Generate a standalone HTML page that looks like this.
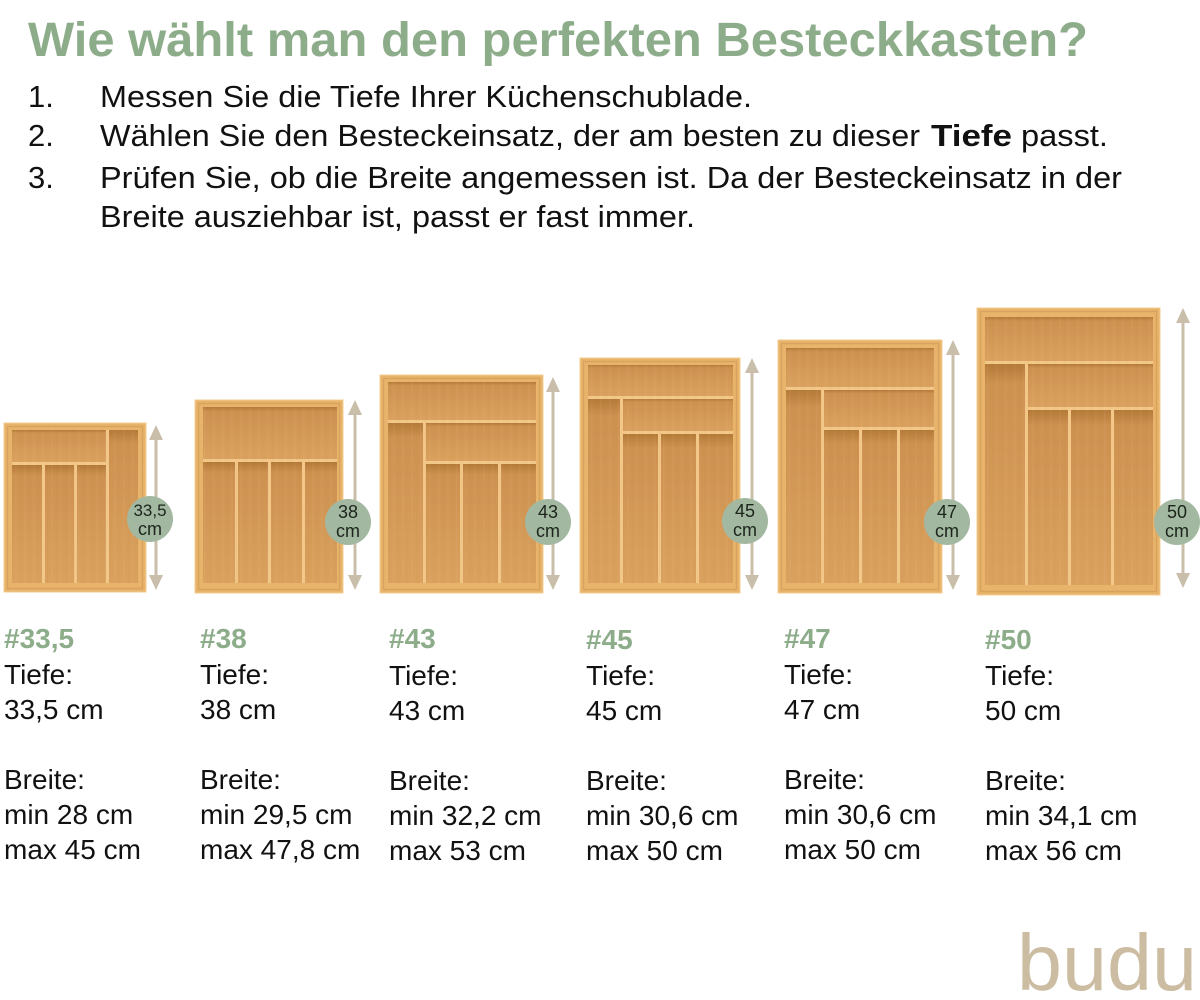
<!DOCTYPE html>
<html>
<head>
<meta charset="utf-8">
<style>
html,body{margin:0;padding:0;background:#fff;}
svg{display:block;}
</style>
</head>
<body>
<svg width="1200" height="1000" viewBox="0 0 1200 1000" xmlns="http://www.w3.org/2000/svg">
<defs>
  <linearGradient id="fl" x1="0" y1="0" x2="0" y2="1">
    <stop offset="0" stop-color="#b47a38"/>
    <stop offset="0.09" stop-color="#cd9150"/>
    <stop offset="1" stop-color="#daa15e"/>
  </linearGradient>
  <pattern id="grain" width="9" height="40" patternUnits="userSpaceOnUse">
    <rect x="2" y="0" width="1" height="40" fill="#8a5a25" opacity="0.04"/>
    <rect x="6" y="0" width="1.5" height="40" fill="#fff3d8" opacity="0.05"/>
  </pattern>
</defs>
<rect width="1200" height="1000" fill="#ffffff"/>

<!-- Title -->
<text x="28" y="56" font-family="Liberation Sans, sans-serif" font-weight="bold" font-size="48" fill="#8dad8a" textLength="1060" lengthAdjust="spacingAndGlyphs">Wie wählt man den perfekten Besteckkasten?</text>

<!-- List -->
<g font-family="Liberation Sans, sans-serif" font-size="31" fill="#111">
  <text x="28" y="107">1.</text>
  <text x="100" y="107" textLength="652" lengthAdjust="spacingAndGlyphs">Messen Sie die Tiefe Ihrer Küchenschublade.</text>
  <text x="28" y="146">2.</text>
  <text x="100" y="146" textLength="820" lengthAdjust="spacingAndGlyphs">Wählen Sie den Besteckeinsatz, der am besten zu dieser</text>
  <text x="931" y="146" font-weight="bold" textLength="81" lengthAdjust="spacingAndGlyphs">Tiefe</text>
  <text x="1021" y="146" textLength="87" lengthAdjust="spacingAndGlyphs">passt.</text>
  <text x="28" y="188">3.</text>
  <text x="100" y="188" textLength="1022" lengthAdjust="spacingAndGlyphs">Prüfen Sie, ob die Breite angemessen ist. Da der Besteckeinsatz in der</text>
  <text x="100" y="227" textLength="595" lengthAdjust="spacingAndGlyphs">Breite ausziehbar ist, passt er fast immer.</text>
</g>

<!-- Arrows -->
<g fill="#c9bea9" stroke="none">
  <rect x="154.5" y="437" width="3" height="141"/>
  <polygon points="149,440 156,425 163,440"/><polygon points="149,575 156,590 163,575"/>
  <rect x="353.5" y="412" width="3" height="166"/>
  <polygon points="348,415 355,400 362,415"/><polygon points="348,575 355,590 362,575"/>
  <rect x="551.5" y="389" width="3" height="189"/>
  <polygon points="546,392 553,377 560,392"/><polygon points="546,575 553,590 560,575"/>
  <rect x="750.5" y="370" width="3" height="208"/>
  <polygon points="745,373 752,358 759,373"/><polygon points="745,575 752,590 759,575"/>
  <rect x="951.5" y="352" width="3" height="226"/>
  <polygon points="946,355 953,340 960,355"/><polygon points="946,575 953,590 960,575"/>
  <rect x="1181.5" y="320" width="3" height="256"/>
  <polygon points="1176,323 1183,308 1190,323"/><polygon points="1176,573 1183,588 1190,573"/>
</g>

<!-- Tray 1 -->
<g>
  <rect x="4" y="423" width="142" height="169" fill="#e8b46c" stroke="#f3cd90" stroke-width="1"/>
  <rect x="7.5" y="426.5" width="135" height="162" fill="none" stroke="#d9a35e" stroke-width="1.5"/>
  <rect x="12" y="430" width="126" height="153" fill="#f2c787"/>
  <rect x="12" y="430" width="94" height="32" fill="url(#fl)"/>
  <rect x="109" y="430" width="29" height="153" fill="url(#fl)"/>
  <rect x="12" y="465" width="30" height="118" fill="url(#fl)"/>
  <rect x="45" y="465" width="29" height="118" fill="url(#fl)"/>
  <rect x="77" y="465" width="29" height="118" fill="url(#fl)"/>
  <rect x="12" y="430" width="126" height="153" fill="url(#grain)"/>
</g>

<!-- Tray 2 -->
<g>
  <rect x="195" y="400" width="148" height="193" fill="#e8b46c" stroke="#f3cd90" stroke-width="1"/>
  <rect x="198.5" y="403.5" width="141" height="186" fill="none" stroke="#d9a35e" stroke-width="1.5"/>
  <rect x="203" y="407" width="134" height="176" fill="#f2c787"/>
  <rect x="203" y="407" width="134" height="52" fill="url(#fl)"/>
  <rect x="203" y="462" width="32" height="121" fill="url(#fl)"/>
  <rect x="238" y="462" width="30" height="121" fill="url(#fl)"/>
  <rect x="271" y="462" width="31" height="121" fill="url(#fl)"/>
  <rect x="305" y="462" width="32" height="121" fill="url(#fl)"/>
  <rect x="203" y="407" width="134" height="176" fill="url(#grain)"/>
</g>

<!-- Tray 3 -->
<g>
  <rect x="380" y="375" width="163" height="218" fill="#e8b46c" stroke="#f3cd90" stroke-width="1"/>
  <rect x="383.5" y="378.5" width="156" height="211" fill="none" stroke="#d9a35e" stroke-width="1.5"/>
  <rect x="388" y="382" width="148" height="201" fill="#f2c787"/>
  <rect x="388" y="382" width="148" height="38" fill="url(#fl)"/>
  <rect x="388" y="423" width="35" height="160" fill="url(#fl)"/>
  <rect x="426" y="423" width="110" height="38" fill="url(#fl)"/>
  <rect x="426" y="464" width="34" height="119" fill="url(#fl)"/>
  <rect x="463" y="464" width="35" height="119" fill="url(#fl)"/>
  <rect x="501" y="464" width="35" height="119" fill="url(#fl)"/>
  <rect x="388" y="382" width="148" height="201" fill="url(#grain)"/>
</g>

<!-- Tray 4 -->
<g>
  <rect x="580" y="358" width="160" height="235" fill="#e8b46c" stroke="#f3cd90" stroke-width="1"/>
  <rect x="583.5" y="361.5" width="153" height="228" fill="none" stroke="#d9a35e" stroke-width="1.5"/>
  <rect x="588" y="365" width="145" height="218" fill="#f2c787"/>
  <rect x="588" y="365" width="145" height="31" fill="url(#fl)"/>
  <rect x="588" y="399" width="32" height="184" fill="url(#fl)"/>
  <rect x="623" y="399" width="110" height="32" fill="url(#fl)"/>
  <rect x="623" y="434" width="35" height="149" fill="url(#fl)"/>
  <rect x="661" y="434" width="35" height="149" fill="url(#fl)"/>
  <rect x="699" y="434" width="34" height="149" fill="url(#fl)"/>
  <rect x="588" y="365" width="145" height="218" fill="url(#grain)"/>
</g>

<!-- Tray 5 -->
<g>
  <rect x="778" y="340" width="164" height="253" fill="#e8b46c" stroke="#f3cd90" stroke-width="1"/>
  <rect x="781.5" y="343.5" width="157" height="246" fill="none" stroke="#d9a35e" stroke-width="1.5"/>
  <rect x="786" y="348" width="148" height="235" fill="#f2c787"/>
  <rect x="786" y="348" width="148" height="39" fill="url(#fl)"/>
  <rect x="786" y="390" width="35" height="193" fill="url(#fl)"/>
  <rect x="824" y="390" width="110" height="37" fill="url(#fl)"/>
  <rect x="824" y="430" width="35" height="153" fill="url(#fl)"/>
  <rect x="862" y="430" width="35" height="153" fill="url(#fl)"/>
  <rect x="900" y="430" width="34" height="153" fill="url(#fl)"/>
  <rect x="786" y="348" width="148" height="235" fill="url(#grain)"/>
</g>

<!-- Tray 6 -->
<g>
  <rect x="977" y="308" width="183" height="287" fill="#e8b46c" stroke="#f3cd90" stroke-width="1"/>
  <rect x="980.5" y="311.5" width="176" height="280" fill="none" stroke="#d9a35e" stroke-width="1.5"/>
  <rect x="985" y="317" width="168" height="268" fill="#f2c787"/>
  <rect x="985" y="317" width="168" height="44" fill="url(#fl)"/>
  <rect x="985" y="364" width="40" height="221" fill="url(#fl)"/>
  <rect x="1028" y="364" width="125" height="43" fill="url(#fl)"/>
  <rect x="1028" y="410" width="40" height="175" fill="url(#fl)"/>
  <rect x="1071" y="410" width="40" height="175" fill="url(#fl)"/>
  <rect x="1114" y="410" width="39" height="175" fill="url(#fl)"/>
  <rect x="985" y="317" width="168" height="268" fill="url(#grain)"/>
</g>

<!-- Circles -->
<g fill="#a3b8a1">
  <circle cx="150" cy="519" r="23"/>
  <circle cx="348" cy="522" r="23"/>
  <circle cx="548" cy="522" r="23"/>
  <circle cx="745" cy="521" r="23"/>
  <circle cx="947" cy="522" r="23"/>
  <circle cx="1177" cy="522" r="23"/>
</g>
<g font-family="Liberation Sans, sans-serif" font-size="18" fill="#1c241c" text-anchor="middle">
  <text x="150" y="516" font-size="17">33,5</text><text x="150" y="535">cm</text>
  <text x="348" y="518">38</text><text x="348" y="537">cm</text>
  <text x="548" y="518">43</text><text x="548" y="537">cm</text>
  <text x="745" y="517">45</text><text x="745" y="536">cm</text>
  <text x="947" y="518">47</text><text x="947" y="537">cm</text>
  <text x="1177" y="518">50</text><text x="1177" y="537">cm</text>
</g>

<!-- Labels -->
<g font-family="Liberation Sans, sans-serif" font-size="28" fill="#111">
  <g font-weight="bold" fill="#8dad8a">
    <text x="4" y="648">#33,5</text>
    <text x="200" y="648">#38</text>
    <text x="389" y="648">#43</text>
    <text x="586" y="649">#45</text>
    <text x="784" y="648">#47</text>
    <text x="985" y="649">#50</text>
  </g>
  <text x="4" y="684">Tiefe:</text>
  <text x="200" y="684">Tiefe:</text>
  <text x="389" y="685">Tiefe:</text>
  <text x="586" y="685">Tiefe:</text>
  <text x="784" y="684">Tiefe:</text>
  <text x="985" y="685">Tiefe:</text>

  <text x="4" y="719">33,5 cm</text>
  <text x="200" y="719">38 cm</text>
  <text x="389" y="720">43 cm</text>
  <text x="586" y="720">45 cm</text>
  <text x="784" y="719">47 cm</text>
  <text x="985" y="720">50 cm</text>

  <text x="4" y="789">Breite:</text>
  <text x="200" y="789">Breite:</text>
  <text x="389" y="790">Breite:</text>
  <text x="586" y="790">Breite:</text>
  <text x="784" y="789">Breite:</text>
  <text x="985" y="790">Breite:</text>

  <text x="4" y="824">min 28 cm</text>
  <text x="200" y="824">min 29,5 cm</text>
  <text x="389" y="825">min 32,2 cm</text>
  <text x="586" y="825">min 30,6 cm</text>
  <text x="784" y="824">min 30,6 cm</text>
  <text x="985" y="825">min 34,1 cm</text>

  <text x="4" y="859">max 45 cm</text>
  <text x="200" y="859">max 47,8 cm</text>
  <text x="389" y="860">max 53 cm</text>
  <text x="586" y="860">max 50 cm</text>
  <text x="784" y="859">max 50 cm</text>
  <text x="985" y="860">max 56 cm</text>
</g>

<!-- Logo -->
<text x="1017" y="990" font-family="Liberation Sans, sans-serif" font-size="80" fill="#cbbca2" textLength="180" lengthAdjust="spacingAndGlyphs">budu</text>
</svg>
</body>
</html>
